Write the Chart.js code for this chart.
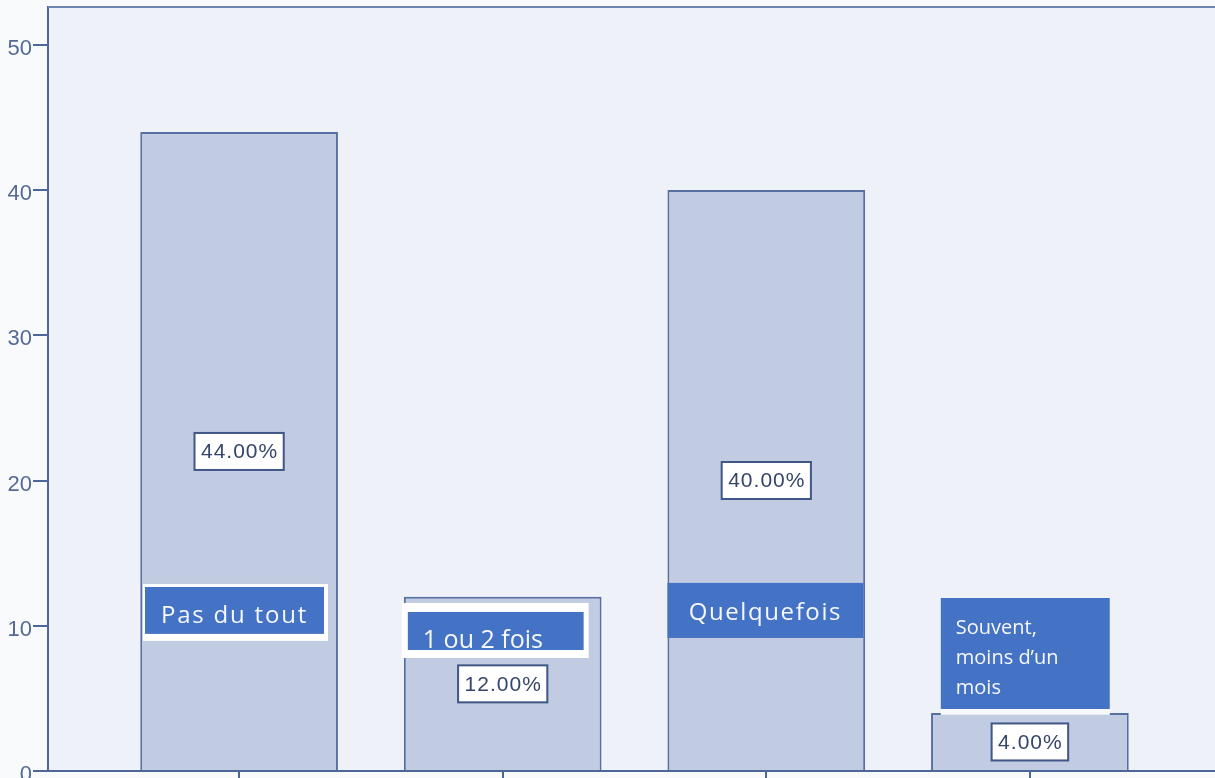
<!DOCTYPE html>
<html>
<head>
<meta charset="utf-8">
<script src="https://cdn.jsdelivr.net/npm/chart.js@4"></script>
<style>
  html, body { margin: 0; padding: 0; background: #f9fafc; }
  #wrap { width: 1215px; height: 778px; overflow: hidden; position: relative; }
  canvas { display: block; }
</style>
</head>
<body>
<div id="wrap"><canvas id="chart" width="1221" height="790"></canvas></div>
<script>
// Data
const categories = ['Pas du tout', '1 ou 2 fois', 'Quelquefois', 'Souvent, moins d\u2019un mois'];
const percentages = [44, 12, 40, 4];
const tagLines = [['Pas du tout'], ['1 ou 2 fois'], ['Quelquefois'], ['Souvent,', 'moins d\u2019un', 'mois']];
const yTicks = [0, 10, 20, 30, 40, 50];
const xTicks = [0, 1, 2, 3];

// Where the blue tag boxes sit (x in category units from the bar centre, y in axis units)
const tagStyles = [
    {x0: -0.357, x1: 0.322, top: 12.67, bottom: 9.44, frame: [2, 3, 4, 7], size: 24, spacing: 1.8, align: 'center', base: 36},
    {x0: -0.360, x1: 0.307, top: 10.95, bottom: 8.33, frame: [6, 9, 5, 8], size: 25, spacing: 0, align: 'left', pad: 15, base: 36},
    {x0: -0.375, x1: 0.368, top: 12.95, bottom: 9.16, frame: null, size: 24, spacing: 1.6, align: 'center', base: 37},
    {x0: -0.338, x1: 0.303, top: 11.91, bottom: 4.27, frame: null, strip: true, size: 20, spacing: 0, align: 'left', pad: 15, base: 36, lh: 30}
];

const axisColor = '#4d6797';

// background, top border and the pasted-on label boxes
const decoPlugin = {
    id: 'deco',
    beforeDraw(chart) {
        const ctx = chart.ctx;
        const a = chart.chartArea;
        ctx.save();
        ctx.fillStyle = '#f9fafc';
        ctx.fillRect(0, 0, chart.width, chart.height);
        ctx.fillStyle = '#eef1f8';
        ctx.fillRect(a.left, a.top, a.right - a.left, a.bottom - a.top);
        ctx.restore();
    },
    afterDatasetsDraw(chart) {
        const ctx = chart.ctx;
        const a = chart.chartArea;
        const xs = chart.scales.x;
        const ys = chart.scales.y;
        ctx.save();
        // top border of the plot
        ctx.strokeStyle = '#6c84b2';
        ctx.lineWidth = 2;
        ctx.beginPath();
        ctx.moveTo(a.left, a.top);
        ctx.lineTo(a.right, a.top);
        ctx.stroke();

        // percentage boxes at half height of each bar
        ctx.font = '21px "Liberation Sans", Arial, sans-serif';
        ctx.letterSpacing = '1px';
        ctx.textAlign = 'center';
        ctx.textBaseline = 'middle';
        percentages.forEach((v, i) => {
            const label = v.toFixed(2) + '%';
            const cx = xs.getPixelForValue(i);
            const cy = ys.getPixelForValue(v / 2);
            const w = ctx.measureText(label).width + 12;
            const h = 37;
            ctx.fillStyle = '#ffffff';
            ctx.fillRect(cx - w / 2, cy - h / 2, w, h);
            ctx.strokeStyle = '#3f5686';
            ctx.lineWidth = 2;
            ctx.strokeRect(cx - w / 2, cy - h / 2, w, h);
            ctx.fillStyle = '#34466a';
            ctx.fillText(label, cx + 0.5, cy + 1);
        });

        // blue category tags
        tagStyles.forEach((t, i) => {
            const left = xs.getPixelForValue(i + t.x0);
            const right = xs.getPixelForValue(i + t.x1);
            const top = ys.getPixelForValue(t.top);
            const bottom = ys.getPixelForValue(t.bottom);
            if (t.frame) {
                ctx.fillStyle = '#ffffff';
                ctx.fillRect(left - t.frame[0], top - t.frame[1],
                    right - left + t.frame[0] + t.frame[2], bottom - top + t.frame[1] + t.frame[3]);
            }
            if (t.strip) {
                ctx.fillStyle = '#f7f8fb';
                ctx.fillRect(left, bottom, right - left, ys.getPixelForValue(percentages[i]) - bottom + 2);
            }
            ctx.fillStyle = '#4472c4';
            ctx.fillRect(left, top, right - left, bottom - top);

            ctx.fillStyle = '#f6f8fd';
            ctx.font = t.size + 'px "Open Sans", sans-serif';
            ctx.letterSpacing = t.spacing + 'px';
            ctx.textBaseline = 'alphabetic';
            ctx.textAlign = t.align;
            const tx = t.align === 'center' ? (left + right) / 2 : left + t.pad;
            tagLines[i].forEach((line, k) => {
                ctx.fillText(line, tx, top + t.base + k * (t.lh || 0));
            });
        });
        ctx.restore();
    }
};

const ctx = document.getElementById('chart').getContext('2d');
const chart = new Chart(ctx, {
    type: 'bar',
    data: {
        labels: categories,
        datasets: [{
            label: 'Pourcentage',
            data: percentages.map((v, i) => ({x: i, y: v})),
            backgroundColor: '#c1cbe1',
            borderColor: '#5670a4',
            borderWidth: 2,
            barPercentage: 0.75,
            categoryPercentage: 1
        }]
    },
    options: {
        responsive: false,
        animation: false,
        devicePixelRatio: 1,
        layout: { padding: { top: 7, right: 0, left: 0, bottom: 0 } },
        plugins: {
            legend: { display: false },
            tooltip: { enabled: false }
        },
        scales: {
            x: {
                type: 'linear',
                offset: false,
                min: -0.725,
                max: 3.725,
                afterBuildTicks: axis => { axis.ticks = xTicks.map(v => ({value: v})); },
                afterFit: axis => { axis.height = 19; axis.paddingLeft = 0; axis.paddingRight = 0; },
                ticks: { display: false },
                grid: { offset: false, drawOnChartArea: false, drawTicks: true, tickLength: 13, color: axisColor, lineWidth: 2 },
                border: { display: true, color: axisColor, width: 2 }
            },
            y: {
                min: 0,
                max: 52.6,
                afterBuildTicks: axis => { axis.ticks = yTicks.map(v => ({value: v})); },
                afterFit: axis => { axis.width = 48; axis.paddingTop = 0; axis.paddingBottom = 0; },
                ticks: {
                    color: '#556a93',
                    padding: 1,
                    labelOffset: 4,
                    font: { family: '"Liberation Sans", Arial, sans-serif', size: 22 }
                },
                grid: { drawOnChartArea: false, drawTicks: true, tickLength: 15, color: axisColor, lineWidth: 2 },
                border: { display: true, color: axisColor, width: 2 }
            }
        }
    },
    plugins: [decoPlugin]
});
</script>
</body>
</html>
